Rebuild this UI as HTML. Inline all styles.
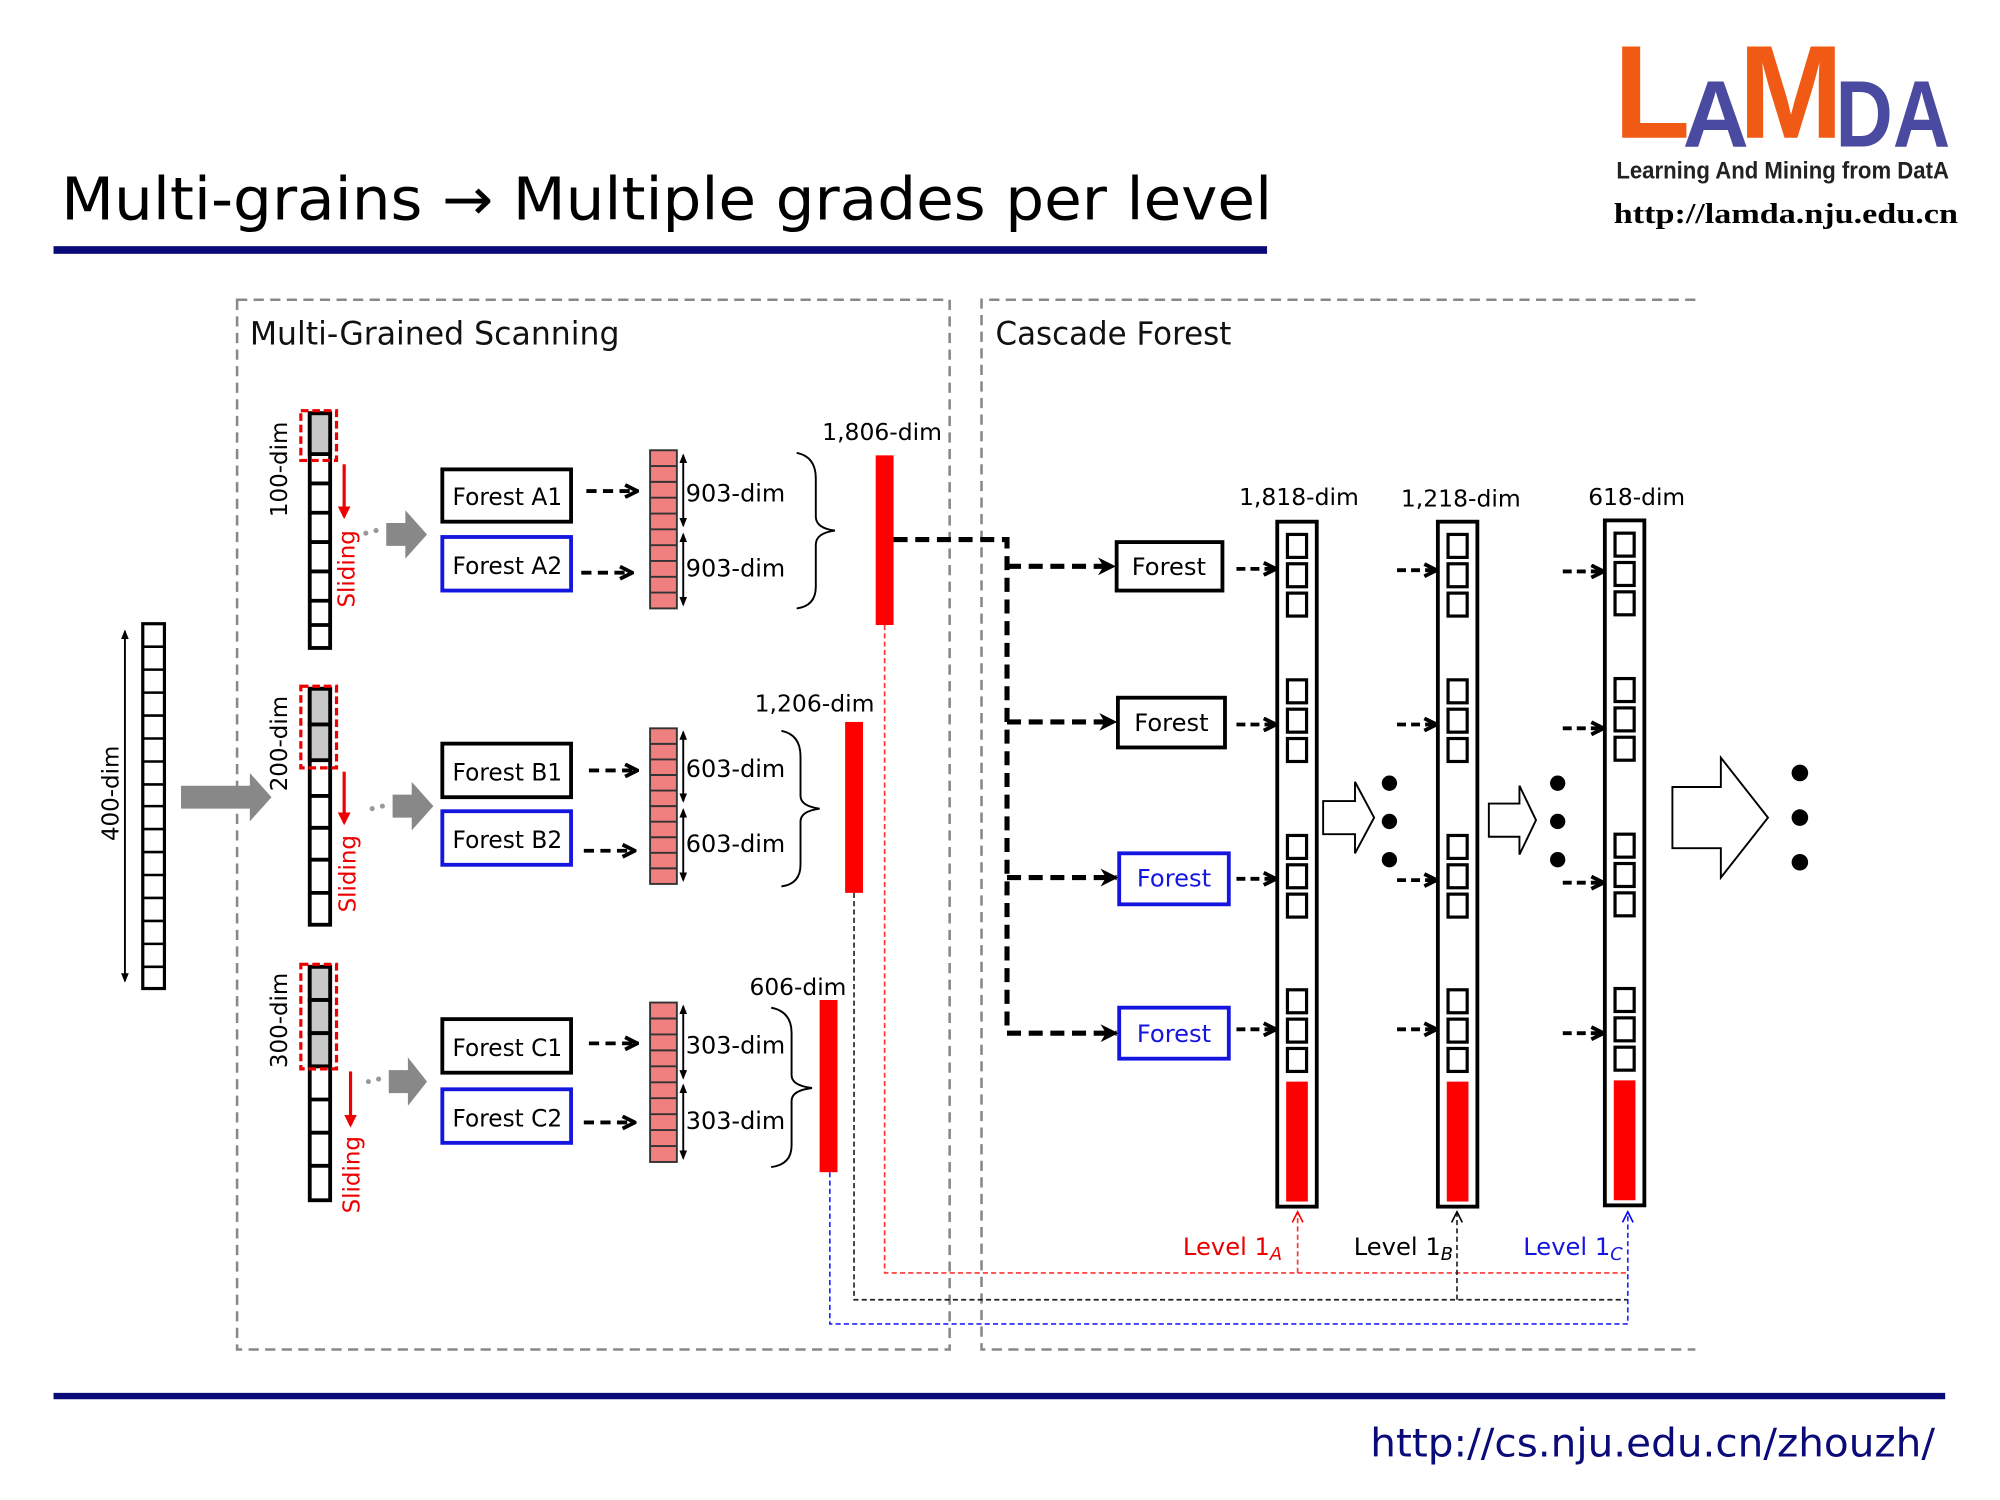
<!DOCTYPE html>
<html><head><meta charset="utf-8"><style>
html,body{margin:0;padding:0;background:#fff}
svg{display:block}
text{font-family:"DejaVu Sans","Liberation Sans",sans-serif}
</style></head><body>
<svg width="2000" height="1500" viewBox="0 0 1569 1176" preserveAspectRatio="none" xmlns="http://www.w3.org/2000/svg">
<defs>
<marker id="ah" viewBox="0 0 10 10" refX="9" refY="5" markerWidth="4" markerHeight="4" orient="auto"><path d="M1,1 L9,5 L1,9" fill="none" stroke="#000" stroke-width="2.5"/></marker>
<marker id="ahb" viewBox="0 0 10 10" refX="9" refY="5" markerWidth="3.5" markerHeight="3.5" orient="auto"><path d="M0,0 L10,5 L0,10 L3,5z" fill="#000"/></marker>
<marker id="ar" viewBox="0 0 10 10" refX="9" refY="5" markerWidth="8" markerHeight="8" orient="auto"><path d="M1,1 L9,5 L1,9" fill="none" stroke="#f00" stroke-width="1.2"/></marker>
<marker id="ak" viewBox="0 0 10 10" refX="9" refY="5" markerWidth="8" markerHeight="8" orient="auto"><path d="M1,1 L9,5 L1,9" fill="none" stroke="#000" stroke-width="1.2"/></marker>
<marker id="abl" viewBox="0 0 10 10" refX="9" refY="5" markerWidth="8" markerHeight="8" orient="auto"><path d="M1,1 L9,5 L1,9" fill="none" stroke="#00f" stroke-width="1.2"/></marker>
<marker id="rd" viewBox="0 0 10 10" refX="8" refY="5" markerWidth="4" markerHeight="4" orient="auto"><path d="M0,0 L10,5 L0,10z" fill="#e00"/></marker>
<marker id="dh" viewBox="0 0 10 10" refX="8" refY="5" markerWidth="5" markerHeight="5" orient="auto-start-reverse"><path d="M0,1 L10,5 L0,9z" fill="#000"/></marker>
</defs>

<!-- Title -->
<text x="48" y="172" font-size="46" textLength="950" lengthAdjust="spacingAndGlyphs" fill="#000">Multi-grains → Multiple grades per level</text>
<rect x="42" y="193" width="952" height="6" fill="#0a0a78"/>

<!-- Logo -->
<text x="1266" y="108" font-weight="bold" font-size="104" fill="#f05a14" textLength="60" lengthAdjust="spacingAndGlyphs" style="font-family:'Liberation Sans',sans-serif">L</text>
<text x="1320" y="115" font-weight="bold" font-size="74" fill="#4a4aa0" textLength="52" lengthAdjust="spacingAndGlyphs" style="font-family:'Liberation Sans',sans-serif">A</text>
<text x="1364" y="108" font-weight="bold" font-size="104" fill="#f05a14" textLength="82" lengthAdjust="spacingAndGlyphs" style="font-family:'Liberation Sans',sans-serif">M</text>
<text x="1440" y="115" font-weight="bold" font-size="74" fill="#4a4aa0" textLength="90" lengthAdjust="spacingAndGlyphs" style="font-family:'Liberation Sans',sans-serif">DA</text>
<text x="1268" y="140" font-weight="bold" font-size="19" fill="#222" textLength="261" lengthAdjust="spacingAndGlyphs" style="font-family:'Liberation Sans',sans-serif">Learning And Mining from DatA</text>
<text x="1266" y="175" font-weight="bold" font-size="22" fill="#000" textLength="270" lengthAdjust="spacingAndGlyphs" style="font-family:'Liberation Serif',serif">http://lamda.nju.edu.cn</text>

<!-- Footer -->
<rect x="42" y="1092" width="1484" height="5" fill="#0a0a78"/>
<text x="1075" y="1142" font-size="31" fill="#0a0a78" textLength="443" lengthAdjust="spacingAndGlyphs">http://cs.nju.edu.cn/zhouzh/</text>

<!-- Dashed frames -->
<rect x="186" y="235" width="559" height="823" fill="none" stroke="#888" stroke-width="2" stroke-dasharray="8,5"/>
<path d="M1330,235 H770 V1058 H1330" fill="none" stroke="#888" stroke-width="2" stroke-dasharray="8,5"/>
<text x="196" y="270" font-size="25" fill="#111" textLength="290" lengthAdjust="spacingAndGlyphs">Multi-Grained Scanning</text>
<text x="781" y="270" font-size="25" fill="#111" textLength="185" lengthAdjust="spacingAndGlyphs">Cascade Forest</text>

<!-- 400-dim column -->
<rect x="112" y="489" width="17" height="286" fill="#fff" stroke="#000" stroke-width="2.5"/>
<g stroke="#000" stroke-width="2">
<path d="M112,507H129M112,525H129M112,543H129M112,561H129M112,579H129M112,597H129M112,615H129M112,632H129M112,650H129M112,668H129M112,686H129M112,704H129M112,722H129M112,740H129M112,758H129"/>
</g>
<line x1="98" y1="495" x2="98" y2="769" stroke="#000" stroke-width="1.5" marker-start="url(#dh)" marker-end="url(#dh)"/>
<text transform="translate(93,622) rotate(-90)" font-size="18" text-anchor="middle" fill="#000">400-dim</text>
<polygon points="142,616 196,616 196,606 213,625 196,644 196,634 142,634" fill="#888"/>

<!-- Scanning columns -->
<g stroke="#000" stroke-width="3" fill="#fff">
<rect x="243" y="324" width="16" height="184"/>
<rect x="243" y="324" width="16" height="32" fill="#c8c8c8"/>
<path d="M243,379H259M243,402H259M243,425H259M243,448H259M243,471H259M243,490H259" fill="none"/>
<rect x="243" y="540" width="16" height="185"/>
<rect x="243" y="540" width="16" height="28" fill="#c8c8c8"/>
<rect x="243" y="568" width="16" height="28" fill="#c8c8c8"/>
<path d="M243,624H259M243,649H259M243,674H259M243,700H259" fill="none"/>
<rect x="243" y="758" width="16" height="183"/>
<rect x="243" y="758" width="16" height="26" fill="#c8c8c8"/>
<rect x="243" y="784" width="16" height="26" fill="#c8c8c8"/>
<rect x="243" y="810" width="16" height="26" fill="#c8c8c8"/>
<path d="M243,862H259M243,888H259M243,914H259" fill="none"/>
</g>
<g fill="none" stroke="#e00" stroke-width="2.5" stroke-dasharray="6,3">
<rect x="236" y="322" width="28" height="39"/>
<rect x="236" y="538" width="28" height="64"/>
<rect x="236" y="756" width="28" height="82"/>
</g>
<g stroke="#e00" stroke-width="2.5">
<line x1="270" y1="364" x2="270" y2="405" marker-end="url(#rd)"/>
<line x1="270" y1="605" x2="270" y2="645" marker-end="url(#rd)"/>
<line x1="275" y1="840" x2="275" y2="882" marker-end="url(#rd)"/>
</g>
<g font-size="18" fill="#e00">
<text transform="translate(278,446) rotate(-90)" text-anchor="middle">Sliding</text>
<text transform="translate(279,685) rotate(-90)" text-anchor="middle">Sliding</text>
<text transform="translate(282,921) rotate(-90)" text-anchor="middle">Sliding</text>
</g>
<g font-size="18" fill="#000">
<text transform="translate(225,368) rotate(-90)" text-anchor="middle">100-dim</text>
<text transform="translate(225,583) rotate(-90)" text-anchor="middle">200-dim</text>
<text transform="translate(225,800) rotate(-90)" text-anchor="middle">300-dim</text>
</g>
<g fill="#999">
<circle cx="287" cy="418" r="2"/><circle cx="295" cy="416" r="2"/>
<circle cx="292" cy="634" r="2"/><circle cx="300" cy="632" r="2"/>
<circle cx="289" cy="848" r="2"/><circle cx="297" cy="846" r="2"/>
</g>
<g fill="#888">
<polygon points="303,410 318,410 318,400 335,419 318,438 318,428 303,428"/>
<polygon points="308,623 323,623 323,613 340,632 323,651 323,641 308,641"/>
<polygon points="305,839 320,839 320,829 335,848 320,867 320,857 305,857"/>
</g>

<!-- Forest boxes -->
<g fill="#fff" stroke-width="3">
<rect x="347" y="368" width="101" height="41" stroke="#000"/>
<rect x="347" y="421" width="101" height="42" stroke="#1515e0"/>
<rect x="347" y="583" width="101" height="42" stroke="#000"/>
<rect x="347" y="636" width="101" height="42" stroke="#1515e0"/>
<rect x="347" y="799" width="101" height="42" stroke="#000"/>
<rect x="347" y="854" width="101" height="42" stroke="#1515e0"/>
</g>
<g font-size="19" fill="#000" text-anchor="middle">
<text x="398" y="396" textLength="86" lengthAdjust="spacingAndGlyphs">Forest A1</text><text x="398" y="450" textLength="86" lengthAdjust="spacingAndGlyphs">Forest A2</text>
<text x="398" y="612" textLength="86" lengthAdjust="spacingAndGlyphs">Forest B1</text><text x="398" y="665" textLength="86" lengthAdjust="spacingAndGlyphs">Forest B2</text>
<text x="398" y="828" textLength="86" lengthAdjust="spacingAndGlyphs">Forest C1</text><text x="398" y="883" textLength="86" lengthAdjust="spacingAndGlyphs">Forest C2</text>
</g>
<g stroke="#000" stroke-width="3" stroke-dasharray="8,5" fill="none" marker-end="url(#ah)">
<line x1="460" y1="385" x2="500" y2="385"/>
<line x1="456" y1="449" x2="496" y2="449"/>
<line x1="462" y1="604" x2="500" y2="604"/>
<line x1="458" y1="667" x2="498" y2="667"/>
<line x1="462" y1="818" x2="500" y2="818"/>
<line x1="458" y1="880" x2="498" y2="880"/>
</g>

<!-- Pink stacks -->
<g stroke="#333" stroke-width="1.5" fill="#f08080">
<rect x="510" y="353" width="21" height="124"/>
<rect x="510" y="571" width="21" height="122"/>
<rect x="510" y="786" width="21" height="125"/>
</g>
<g stroke="#333" stroke-width="1.5">
<path d="M510,365.4H531M510,377.8H531M510,390.2H531M510,402.6H531M510,415H531M510,427.4H531M510,439.8H531M510,452.2H531M510,464.6H531"/>
<path d="M510,583.2H531M510,595.4H531M510,607.6H531M510,619.8H531M510,632H531M510,644.2H531M510,656.4H531M510,668.6H531M510,680.8H531"/>
<path d="M510,798.5H531M510,811H531M510,823.5H531M510,836H531M510,848.5H531M510,861H531M510,873.5H531M510,886H531M510,898.5H531"/>
</g>
<g stroke="#000" stroke-width="1.5">
<line x1="536" y1="357" x2="536" y2="412" marker-start="url(#dh)" marker-end="url(#dh)"/>
<line x1="536" y1="419" x2="536" y2="474" marker-start="url(#dh)" marker-end="url(#dh)"/>
<line x1="536" y1="574" x2="536" y2="628" marker-start="url(#dh)" marker-end="url(#dh)"/>
<line x1="536" y1="635" x2="536" y2="690" marker-start="url(#dh)" marker-end="url(#dh)"/>
<line x1="536" y1="789" x2="536" y2="845" marker-start="url(#dh)" marker-end="url(#dh)"/>
<line x1="536" y1="851" x2="536" y2="908" marker-start="url(#dh)" marker-end="url(#dh)"/>
</g>
<g font-size="19" fill="#000">
<text x="538" y="393" textLength="78" lengthAdjust="spacingAndGlyphs">903-dim</text><text x="538" y="452" textLength="78" lengthAdjust="spacingAndGlyphs">903-dim</text>
<text x="538" y="609" textLength="78" lengthAdjust="spacingAndGlyphs">603-dim</text><text x="538" y="668" textLength="78" lengthAdjust="spacingAndGlyphs">603-dim</text>
<text x="538" y="826" textLength="78" lengthAdjust="spacingAndGlyphs">303-dim</text><text x="538" y="885" textLength="78" lengthAdjust="spacingAndGlyphs">303-dim</text>
</g>
<g fill="none" stroke="#000" stroke-width="1.5">
<path d="M625,355 Q640,358 640,375 V405 Q640,414 655,416 Q640,418 640,427 V460 Q640,475 625,477"/>
<path d="M613,573 Q628,576 628,593 V624 Q628,632 643,634 Q628,636 628,644 V678 Q628,693 613,695"/>
<path d="M605,790 Q621,793 621,810 V843 Q621,851 637,853 Q621,855 621,863 V898 Q621,913 605,915"/>
</g>
<g fill="#f00">
<rect x="687" y="357" width="14" height="133"/>
<rect x="663" y="566" width="14" height="134"/>
<rect x="643" y="784" width="14" height="135"/>
</g>
<g font-size="18" fill="#000">
<text x="645" y="345" textLength="94" lengthAdjust="spacingAndGlyphs">1,806-dim</text>
<text x="592" y="558" textLength="94" lengthAdjust="spacingAndGlyphs">1,206-dim</text>
<text x="588" y="780" textLength="76" lengthAdjust="spacingAndGlyphs">606-dim</text>
</g>

<g stroke="#000" stroke-width="4" stroke-dasharray="11,6" fill="none">
<path d="M701,423 H790 V810"/>
</g>
<g stroke="#000" stroke-width="4" stroke-dasharray="11,6" fill="none" marker-end="url(#ahb)">
<line x1="790" y1="444" x2="874" y2="444"/>
<line x1="790" y1="566" x2="875" y2="566"/>
<line x1="790" y1="688" x2="876" y2="688"/>
<line x1="790" y1="810" x2="876" y2="810"/>
</g>

<g fill="#fff" stroke-width="3">
<rect x="876" y="425" width="83" height="38" stroke="#000"/>
<rect x="877" y="547" width="84" height="39" stroke="#000"/>
<rect x="878" y="669" width="86" height="40" stroke="#1515e0"/>
<rect x="878" y="790" width="86" height="40" stroke="#1515e0"/>
</g>
<g font-size="19" text-anchor="middle">
<text x="917" y="451" fill="#000">Forest</text>
<text x="919" y="573" fill="#000">Forest</text>
<text x="921" y="695" fill="#1515e0">Forest</text>
<text x="921" y="817" fill="#1515e0">Forest</text>
</g>
<g stroke="#000" stroke-width="3" stroke-dasharray="7,4" fill="none" marker-end="url(#ah)">
<line x1="970" y1="446" x2="1001" y2="446"/>
<line x1="970" y1="568" x2="1001" y2="568"/>
<line x1="970" y1="689" x2="1001" y2="689"/>
<line x1="970" y1="807" x2="1001" y2="807"/>
<line x1="1096" y1="447" x2="1127" y2="447"/>
<line x1="1096" y1="568" x2="1127" y2="568"/>
<line x1="1096" y1="690" x2="1127" y2="690"/>
<line x1="1096" y1="807" x2="1127" y2="807"/>
<line x1="1226" y1="448" x2="1258" y2="448"/>
<line x1="1226" y1="571" x2="1258" y2="571"/>
<line x1="1226" y1="692" x2="1258" y2="692"/>
<line x1="1226" y1="810" x2="1258" y2="810"/>
</g>

<g id="col">
<rect x="1002" y="409" width="31" height="537" fill="#fff" stroke="#000" stroke-width="3"/>
<g fill="none" stroke="#000" stroke-width="2.5">
<rect x="1010" y="419" width="15" height="18"/><rect x="1010" y="442" width="15" height="18"/><rect x="1010" y="465" width="15" height="18"/>
<rect x="1010" y="533" width="15" height="18"/><rect x="1010" y="556" width="15" height="18"/><rect x="1010" y="579" width="15" height="18"/>
<rect x="1010" y="655" width="15" height="18"/><rect x="1010" y="678" width="15" height="18"/><rect x="1010" y="701" width="15" height="18"/>
<rect x="1010" y="776" width="15" height="18"/><rect x="1010" y="799" width="15" height="18"/><rect x="1010" y="822" width="15" height="18"/>
</g>
<rect x="1009" y="848" width="17" height="94" fill="#f00"/>
</g>
<use href="#col" x="126"/>
<use href="#col" x="257" y="-1"/>
<g font-size="18" fill="#000">
<text x="972" y="396" textLength="94" lengthAdjust="spacingAndGlyphs">1,818-dim</text>
<text x="1099" y="397" textLength="94" lengthAdjust="spacingAndGlyphs">1,218-dim</text>
<text x="1246" y="396" textLength="76" lengthAdjust="spacingAndGlyphs">618-dim</text>
</g>

<g fill="#fff" stroke="#000" stroke-width="1.5">
<polygon points="1038,628 1063,628 1063,613 1078,641 1063,669 1063,654 1038,654"/>
<polygon points="1168,630 1192,630 1192,616 1205,643 1192,670 1192,656 1168,656"/>
<polygon points="1312,617 1350,617 1350,594 1387,641 1350,688 1350,665 1312,665"/>
</g>
<g fill="#000">
<circle cx="1090" cy="614" r="6"/><circle cx="1090" cy="644" r="6"/><circle cx="1090" cy="674" r="6"/>
<circle cx="1222" cy="614" r="6"/><circle cx="1222" cy="644" r="6"/><circle cx="1222" cy="674" r="6"/>
<circle cx="1412" cy="606" r="6.5"/><circle cx="1412" cy="641" r="6.5"/><circle cx="1412" cy="676" r="6.5"/>
</g>

<g fill="none" stroke-width="1.3" stroke-dasharray="4,2.5">
<path d="M694,490 V998 H1277" stroke="#f33"/>
<path d="M670,700 V1019 H1277" stroke="#222"/>
<path d="M651,919 V1038 H1277 V950" stroke="#22f" marker-end="url(#abl)"/>
<path d="M1018,998 V950" stroke="#f33" marker-end="url(#ar)"/>
<path d="M1143,1019 V950" stroke="#222" marker-end="url(#ak)"/>
</g>
<g font-size="19">
<text x="928" y="984" fill="#e00">Level 1<tspan font-size="14" font-style="italic" dy="4">A</tspan></text>
<text x="1062" y="984" fill="#000">Level 1<tspan font-size="14" font-style="italic" dy="4">B</tspan></text>
<text x="1195" y="984" fill="#1515e0">Level 1<tspan font-size="14" font-style="italic" dy="4">C</tspan></text>
</g>
</svg>
</body></html>
